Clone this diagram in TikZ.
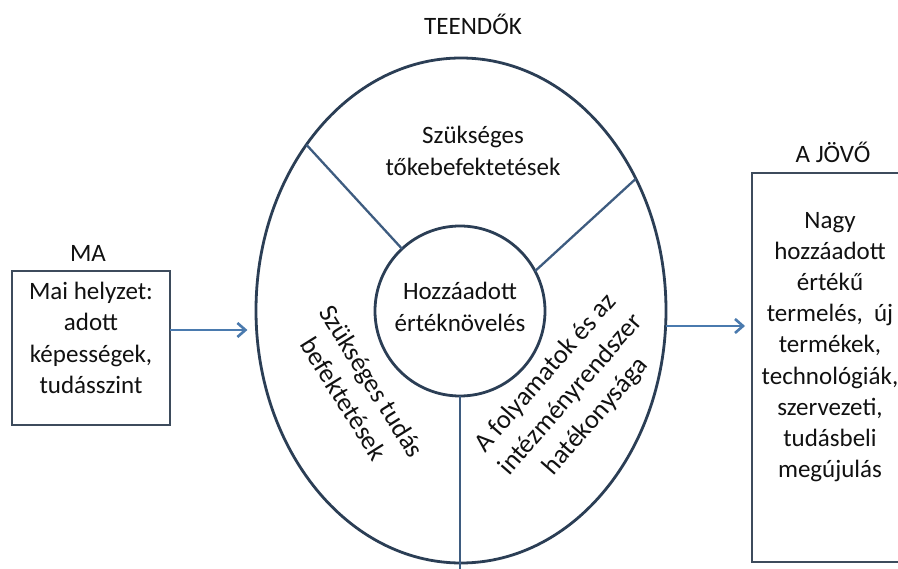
\documentclass[tikz,border=0pt]{standalone}
\usepackage{fontspec}
\setmainfont{Carlito}
\usetikzlibrary{shapes.geometric,arrows.meta}
\definecolor{ringc}{HTML}{2B3E55}
\definecolor{divc}{HTML}{3E5C80}
\definecolor{arrc}{HTML}{4A7AAE}
\definecolor{boxc}{HTML}{3D4B5C}
\definecolor{txtc}{HTML}{111111}
\begin{document}
\begin{tikzpicture}[x=1pt,y=-1pt,
  ring/.style={draw=ringc,line width=2.8pt,inner sep=0pt,outer sep=0pt},
  divider/.style={draw=divc,line width=2.3pt},
  boxshape/.style={draw=boxc,line width=2.8pt,rectangle,inner sep=0pt,outer sep=0pt},
  lbl/.style={font=\fontsize{25}{31.2}\selectfont,align=center,inner sep=0pt,text=txtc},
  rlbl/.style={font=\fontsize{26.5}{33}\selectfont,align=center,inner sep=0pt,text=txtc},
  arr/.style={draw=arrc,line width=2.6pt,-{Straight Barb[length=8pt,width=14pt]}}]
\useasboundingbox (0,0) rectangle (898,569);
\clip (0,0) rectangle (898,569);
\fill[white] (0,0) rectangle (898,569);
% central ellipse and circle
\node[ellipse,ring,minimum width=410pt,minimum height=505pt] (E) at (461,310.5) {};
\node[circle,ring,minimum size=170pt] (C) at (460,311) {};
\coordinate (bot) at (462,575);
\draw[divider] (C.133) -- (E.133);
\draw[divider] (C.28) -- (E.37.5);
\draw[divider] (C.south) -- (C.south |- bot);
% boxes
\node[boxshape,minimum width=158pt,minimum height=154pt] (A) at (91,348) {};
\node[boxshape,minimum width=160pt,minimum height=389pt] (B) at (832,367.5) {};
% titles
\node[lbl] (tma) at (88,253) {MA};
\node[lbl] (tteend) at (473,24) {TEENDŐK};
\node[lbl] (tjovo) at (833,152) {A JÖVŐ};
% box texts
\node[lbl] (At) at (91,338) {Mai helyzet:\\adott\\képességek,\\tudásszint};
\node[lbl] (Bt) at (830,347) {Nagy\\hozzáadott\\értékű\\termelés,\ \ új\\termékek,\\technológiák,\\szervezeti,\\tudásbeli\\megújulás};
% ring texts
\node[lbl] (top) at (473,151) {Szükséges\\tőkebefektetések};
\node[lbl] (mid) at (460,307) {Hozzáadott\\értéknövelés};
\node[rlbl,rotate=-58] (left) at (358,390) {Szükséges tudás\\befektetések};
\node[rlbl,rotate=49] (right) at (571,395) {A folyamatok és az\\intézményrendszer\\hatékonysága};
% arrows
\coordinate (la) at (248,330);
\coordinate (ra) at (745,326);
\draw[arr,shorten >=8.6pt] (A.east |- la) -- (E.west |- la);
\draw[arr,shorten >=7pt] (E.east |- ra) -- (B.west |- ra);
\end{tikzpicture}
\end{document}
